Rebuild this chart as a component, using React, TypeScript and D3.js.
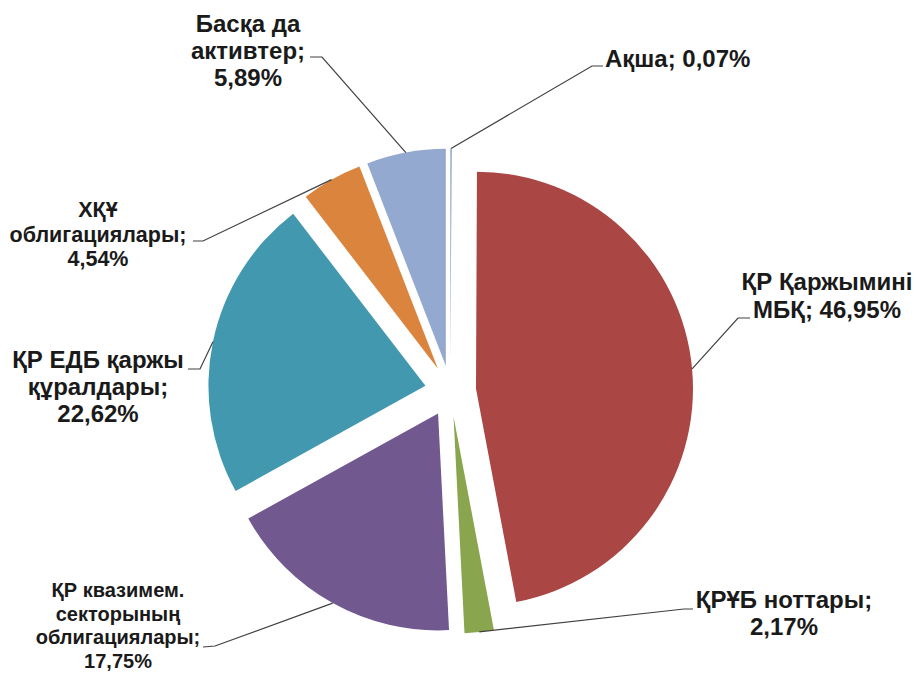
import React, { useEffect, useRef } from "react";
import * as d3 from "d3";

// slice order clockwise from 12 o'clock
const names = [
  "Ақша",
  "ҚР Қаржымині МБҚ",
  "ҚРҰБ ноттары",
  "ҚР квазимем. секторының облигациялары",
  "ҚР ЕДБ қаржы құралдары",
  "ХҚҰ облигациялары",
  "Басқа да активтер",
];
const values = [0.07, 46.95, 2.17, 17.75, 22.62, 4.54, 5.89];
const colors = ["#4572A7", "#AA4643", "#89A54E", "#71588F", "#4198AF", "#DB843D", "#93A9CF"];

// label text broken into lines the way the picture shows them
const labelLines = [
  ["Ақша; 0,07%"],
  ["ҚР Қаржымині", "МБҚ; 46,95%"],
  ["ҚРҰБ ноттары;", "2,17%"],
  ["ҚР квазимем.", "секторының", "облигациялары;", "17,75%"],
  ["ҚР ЕДБ қаржы", "құралдары;", "22,62%"],
  ["ХҚҰ", "облигациялары;", "4,54%"],
  ["Басқа да", "активтер;", "5,89%"],
];

// layout of labels: text anchor point, line height, font size, leader start and elbow
const labelLayout = [
  { x: 605, y: 67, lh: 27, fs: 24, anchor: "start", lead: [603, 66], elbow: [592, 66] },
  { x: 827, y: 290, lh: 28, fs: 24, anchor: "middle", lead: [750, 318], elbow: [738, 318] },
  { x: 784, y: 608, lh: 27, fs: 24, anchor: "middle", lead: [693, 609], elbow: [684, 609] },
  { x: 118, y: 597, lh: 23.7, fs: 20, anchor: "middle", lead: [203, 647], elbow: [215, 646] },
  { x: 98, y: 368, lh: 27, fs: 24, anchor: "middle", lead: [188, 369], elbow: [200, 369] },
  { x: 98, y: 217, lh: 24.5, fs: 21.5, anchor: "middle", lead: [193, 241], elbow: [203, 241] },
  { x: 248, y: 32, lh: 27, fs: 24, anchor: "middle", lead: [310, 57], elbow: [322, 57] },
];

const width = 916;
const height = 673;

const App = () => {
  const svgRef = useRef<SVGSVGElement>(null);

  useEffect(() => {
    const cx = 450.5;
    const cy = 391;
    const radius = 217;
    const explode = 25.6;

    const svg = d3.select(svgRef.current);
    svg.selectAll("*").remove();

    const pie = d3
      .pie<number>()
      .sort(null)
      .value((d) => d);
    const arcs = pie(values);

    const arcGen = d3.arc<d3.PieArcDatum<number>>().innerRadius(0).outerRadius(radius);

    const g = svg.append("g").attr("transform", `translate(${cx},${cy})`);

    const offset = (a: d3.PieArcDatum<number>) => {
      const mid = (a.startAngle + a.endAngle) / 2;
      return [Math.sin(mid) * explode, -Math.cos(mid) * explode];
    };

    g.selectAll("path.slice")
      .data(arcs)
      .join("path")
      .attr("class", "slice")
      .attr("d", arcGen)
      .attr("fill", (_, i) => colors[i])
      .attr("transform", (a) => {
        const [dx, dy] = offset(a);
        return `translate(${dx},${dy})`;
      });

    // leader lines: label -> elbow -> middle of the slice's arc
    arcs.forEach((a, i) => {
      const mid = (a.startAngle + a.endAngle) / 2;
      const [dx, dy] = offset(a);
      const ex = cx + dx + Math.sin(mid) * radius;
      const ey = cy + dy - Math.cos(mid) * radius;
      const L = labelLayout[i];
      svg
        .append("polyline")
        .attr("points", `${L.lead[0]},${L.lead[1]} ${L.elbow[0]},${L.elbow[1]} ${ex},${ey}`)
        .attr("fill", "none")
        .attr("stroke", "#404040")
        .attr("stroke-width", 1.2);
    });

    // labels
    labelLines.forEach((lines, i) => {
      const L = labelLayout[i];
      const t = svg
        .append("text")
        .attr("text-anchor", L.anchor)
        .attr("font-family", "'Liberation Sans', Arial, sans-serif")
        .attr("font-weight", "bold")
        .attr("font-size", L.fs)
        .attr("fill", "#1a1a1a");
      lines.forEach((line, j) => {
        t.append("tspan")
          .attr("x", L.x)
          .attr("y", L.y + j * L.lh)
          .text(line);
      });
    });
  }, []);

  return (
    <svg
      ref={svgRef}
      width={width}
      height={height}
      style={{ position: "absolute", left: 0, top: 0, background: "white" }}
    />
  );
};

export default App;
